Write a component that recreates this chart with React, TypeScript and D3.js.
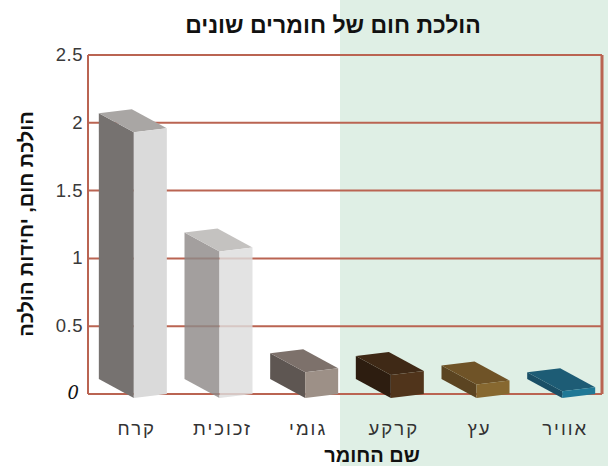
import React from "react";
import * as d3 from "d3";

const categories = ["קרח", "זכוכית", "גומי", "קרקע", "עץ", "אוויר"];
const values = [1.93, 1.05, 0.16, 0.14, 0.07, 0.02];
const yTicks = [0, 0.5, 1, 1.5, 2, 2.5];
const yTickLabels = ["0", "0.5", "1", "1.5", "2", "2.5"];

const palette = [
  { side: "#767270", top: "#a9a6a4", front: "#dadada", opacity: 1 },
  { side: "#8f8b89", top: "#b8b5b3", front: "#dedddd", opacity: 0.82 },
  { side: "#5e5652", top: "#7d716b", front: "#9d9087", opacity: 1 },
  { side: "#2d1d10", top: "#3f2916", front: "#50341b", opacity: 1 },
  { side: "#5b4421", top: "#6f5327", front: "#876830", opacity: 1 },
  { side: "#1a4f66", top: "#1d5c75", front: "#1f7896", opacity: 1 },
];

const W = 608;
const H = 466;
const m = { left: 88, right: 6, top: 55, bottom: 72 };
const FONT = "'Liberation Sans', Arial, 'DejaVu Sans', sans-serif";
const GRID = "#ba6452";

export default function App() {
  const x = d3
    .scaleBand<string>()
    .domain(categories)
    .range([m.left, W - m.right])
    .padding(0);
  const y = d3.scaleLinear().domain([0, 2.5]).range([H - m.bottom, m.top]);

  const dx = -35;
  const dy = -19;
  const sink = 4;
  const skew = 4;
  const faceW = 33;

  const pts = (p: [number, number][]) => p.map((q) => q.join(",")).join(" ");

  return (
    <svg
      width={W}
      height={H}
      style={{ position: "absolute", left: 0, top: 0, background: "#fff" }}
    >
      <rect x={340} y={0} width={W - 340} height={H} fill="#dfefe5" />

      {/* gridlines */}
      {yTicks.map((t) => (
        <line
          key={t}
          x1={m.left}
          x2={W - m.right}
          y1={y(t)}
          y2={y(t)}
          stroke={GRID}
          strokeWidth={2}
        />
      ))}
      <line x1={m.left} x2={m.left} y1={y(2.5)} y2={y(0)} stroke={GRID} strokeWidth={2} />
      <line
        x1={W - m.right}
        x2={W - m.right}
        y1={y(2.5)}
        y2={y(0)}
        stroke={GRID}
        strokeWidth={3}
      />

      {/* tick labels */}
      {yTicks.map((t, i) =>
        i === 0 ? (
          <text
            key={t}
            x={79}
            y={y(t) + 5}
            textAnchor="end"
            fontFamily="'DejaVu Serif', serif"
            fontStyle="italic"
            fontSize={18}
            fill="#111"
          >
            {yTickLabels[i]}
          </text>
        ) : (
          <text
            key={t}
            x={83}
            y={y(t) + 6}
            textAnchor="end"
            fontFamily={FONT}
            fontSize={18.5}
            letterSpacing={0.5}
            fill="#3a3a3a"
          >
            {yTickLabels[i]}
          </text>
        )
      )}

      {/* bars */}
      {categories.map((c, i) => {
        const cx = (x(c) as number) + x.bandwidth() / 2;
        const xl = cx + 3;
        const xr = xl + faceW;
        const yt = y(values[i]);
        const yb = y(0) + sink;
        const col = palette[i];
        return (
          <g key={c} opacity={col.opacity}>
            <polygon
              points={pts([
                [xl, yt],
                [xl + dx, yt + dy],
                [xl + dx, yb + dy],
                [xl, yb],
              ])}
              fill={col.side}
            />
            <polygon
              points={pts([
                [xl, yt],
                [xl + dx, yt + dy],
                [xr + dx, yt + dy - skew],
                [xr, yt - skew],
              ])}
              fill={col.top}
            />
            <polygon
              points={pts([
                [xl, yt],
                [xr, yt - skew],
                [xr, yb - skew],
                [xl, yb],
              ])}
              fill={col.front}
            />
          </g>
        );
      })}

      {/* x labels */}
      {categories.map((c) => (
        <text
          key={c}
          x={(x(c) as number) + x.bandwidth() / 2 + 6}
          y={435}
          textAnchor="middle"
          fontFamily={FONT}
          fontSize={18.5}
          letterSpacing={2}
          fill="#333"
          direction="rtl"
        >
          {c}
        </text>
      ))}

      {/* titles */}
      <text
        x={333}
        y={33}
        textAnchor="middle"
        fontFamily={FONT}
        fontWeight="bold"
        fontSize={23}
        fill="#111"
        direction="rtl"
      >
        הולכת חום של חומרים שונים
      </text>
      <text
        x={372}
        y={462}
        textAnchor="middle"
        fontFamily={FONT}
        fontWeight="bold"
        fontSize={20}
        fill="#111"
        direction="rtl"
      >
        שם החומר
      </text>
      <text
        transform={`translate(33, 224) rotate(-90)`}
        textAnchor="middle"
        fontFamily={FONT}
        fontWeight="bold"
        fontSize={20}
        fill="#111"
        direction="rtl"
      >
        הולכת חום, יחידות הולכה
      </text>
    </svg>
  );
}
